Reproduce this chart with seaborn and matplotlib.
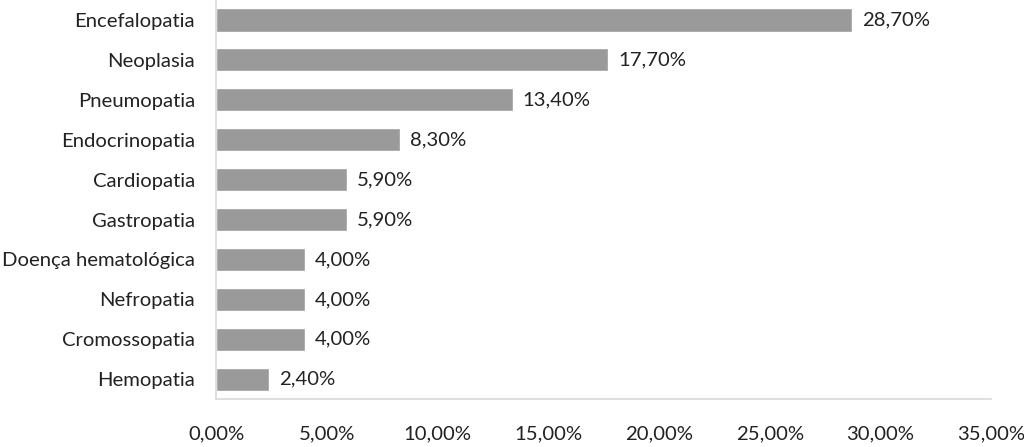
import pandas as pd
import matplotlib
matplotlib.use('Agg')
import matplotlib.pyplot as plt
import seaborn as sns

# dados
doencas = ['Encefalopatia', 'Neoplasia', 'Pneumopatia', 'Endocrinopatia', 'Cardiopatia',
           'Gastropatia', 'Doença hematológica', 'Nefropatia', 'Cromossopatia', 'Hemopatia']
percentuais = [28.7, 17.7, 13.4, 8.3, 5.9, 5.9, 4.0, 4.0, 4.0, 2.4]
ticks_x = [0, 5, 10, 15, 20, 25, 30, 35]

df = pd.DataFrame({'doenca': doencas, 'pct': percentuais})

sns.set_style('white')
plt.rcParams['font.family'] = ['Lato', 'DejaVu Sans']
fs = 14.6

fig = plt.figure(figsize=(10.24, 4.47), dpi=100)
ax = fig.add_axes([0.211, 0.107, 0.757, 0.893])
sns.barplot(data=df, x='pct', y='doenca', color='#9a9a9a', width=0.58,
            saturation=1, ax=ax)

def fmt(v):
    return f'{v:.2f}'.replace('.', ',') + '%'

# rótulos de valor
for i, v in enumerate(percentuais):
    ax.text(v + 0.45, i, fmt(v), va='center', ha='left', fontsize=fs, color='#222222')

ax.set_xlim(0, 35)
ax.set_ylim(9.5, -0.5)
ax.set_xticks(ticks_x)
ax.set_xticklabels([fmt(t) for t in ticks_x], fontsize=fs, color='#222222')
ax.tick_params(axis='x', length=0, pad=19)
ax.tick_params(axis='y', length=0, pad=15, labelsize=fs, labelcolor='#222222')
ax.set_xlabel('')
ax.set_ylabel('')
for s in ['top', 'right']:
    ax.spines[s].set_visible(False)
for s in ['left', 'bottom']:
    ax.spines[s].set_color('#d9d9d9')
    ax.spines[s].set_linewidth(1.2)

fig.savefig('out.png', dpi=100)
